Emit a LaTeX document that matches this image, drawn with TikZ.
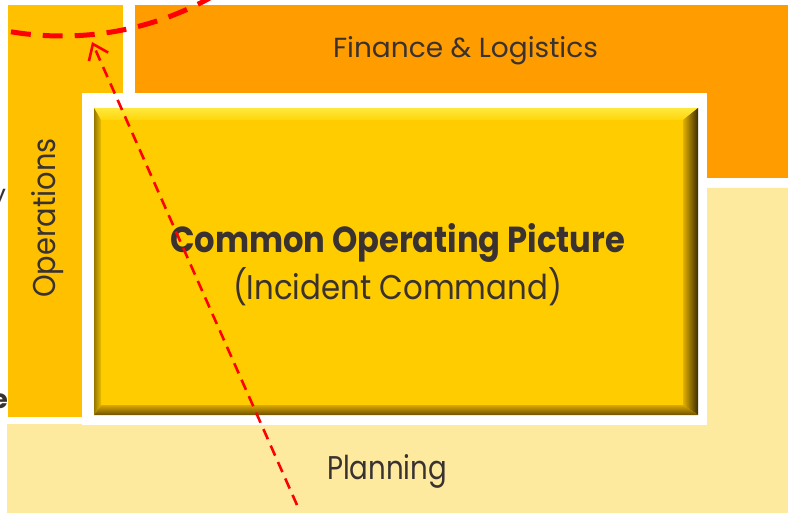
\documentclass[tikz,border=0pt]{standalone}
\usepackage{fontspec}
\setmainfont{Poppins}
\usetikzlibrary{arrows.meta}
\definecolor{opsc}{HTML}{FFC000}
\definecolor{finc}{HTML}{FF9C00}
\definecolor{planc}{HTML}{FDEA9F}
\definecolor{facec}{HTML}{FFCC00}
\definecolor{txtc}{HTML}{3A3231}
\definecolor{redc}{HTML}{FF0000}
\tikzset{
  area/.style={draw=none},
  lbl/.style={inner sep=0pt, outer sep=0pt, text=txtc, font=\fontsize{20}{24}\selectfont},
  bigdash/.style={draw=redc, line width=5pt, dash pattern=on 20pt off 12pt},
  arrowdash/.style={draw=redc, line width=2.6pt, dash pattern=on 11pt off 7pt,
     -{Straight Barb[length=14pt,width=21pt,line width=2.6pt]}}
}
\begin{document}
\begin{tikzpicture}[x=1pt,y=-1pt]
\useasboundingbox[fill=white] (0,0) rectangle (788,513);
% areas
\fill[opsc] (8,5) rectangle (123,417);
\fill[finc] (135,5) rectangle (788,178);
\fill[planc] (7,424) -- (707,424) -- (707,188) -- (788,188) -- (788,513) -- (7,513) -- cycle;
\fill[white] (82,93) rectangle (707,425);
% bevelled box
\fill[facec] (94,108) rectangle (698,415);
\shade[top color={rgb,255:red,255;green,232;blue,60}, bottom color={rgb,255:red,255;green,214;blue,10}]
  (94,108) -- (698,108) -- (683,120) -- (101,120) -- cycle;
\shade[left color={rgb,255:red,226;green,176;blue,0}, right color={rgb,255:red,60;green,44;blue,0}]
  (698,108) -- (698,415) -- (683,405) -- (683,120) -- cycle;
\shade[top color={rgb,255:red,220;green,168;blue,0}, bottom color={rgb,255:red,110;green,80;blue,0}]
  (94,415) -- (698,415) -- (683,405) -- (101,405) -- cycle;
\shade[left color={rgb,255:red,150;green,120;blue,0}, right color={rgb,255:red,235;green,190;blue,0}]
  (94,108) -- (101,120) -- (101,405) -- (94,415) -- cycle;
% texts
\node[lbl, anchor=base west] (finT) at (333,58) {\resizebox{265pt}{21pt}{Finance \& Logistics}};
\node[lbl, anchor=base west, rotate=90] (opsT) at (55,298) {\resizebox{160pt}{24pt}{Operations}};
\node[lbl, anchor=base west] (copT) at (170,253) {\resizebox{455pt}{29pt}{\bfseries Common Operating Picture}};
\node[lbl, anchor=base west] (icT) at (233,300) {\resizebox{329pt}{32pt}{(Incident Command)}};
\node[lbl, anchor=base west] (planT) at (327,479) {\resizebox{120pt}{25pt}{Planning}};
\node[lbl, anchor=base east] (fragY) at (6,204) {\fontsize{26}{28}\selectfont y};
\node[lbl, anchor=base east] (fragE) at (8,409) {\fontsize{26}{28}\selectfont\bfseries e};
% dashed circle and arrow
\coordinate (cc) at (62,-270);
\draw[bigdash] (cc) circle[radius=306];
\coordinate (arrS) at (297,505);
\coordinate (arrE) at (92,42);
\draw[arrowdash] (arrS) -- (arrE);
\end{tikzpicture}
\end{document}
